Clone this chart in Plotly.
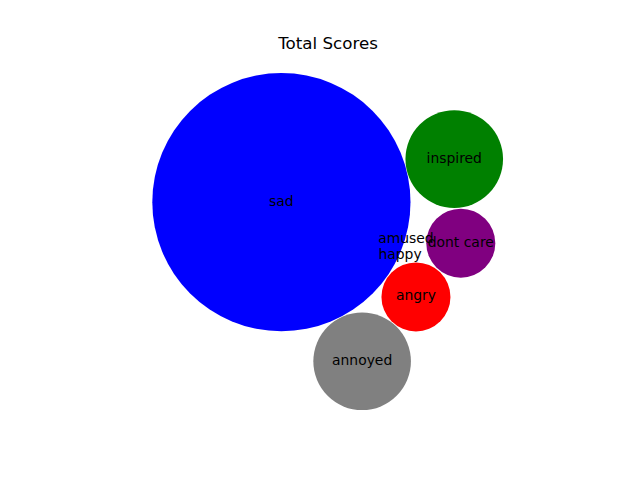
import numpy as np
import plotly.graph_objects as go

# Data
labels = ["sad", "inspired", "dont care", "angry", "annoyed", "amused", "happy"]
scores = [14, 2, 1, 1, 2, 0, 0]
x_pos = [0.0, 5.01, 5.20, 3.90, 2.34, 3.61, 3.44]
y_pos = [0.0, 1.25, -1.19, -2.75, -4.62, -1.08, -1.54]
colors = ["#0000ff", "#008000", "#800080", "#ff0000", "#808080", "#1f77b4", "#ff7f0e"]

PX_PER_UNIT = 34.5
diam = [2 * np.sqrt(s) * PX_PER_UNIT for s in scores]

fig = go.Figure()
fig.add_trace(go.Scatter(
    x=x_pos, y=y_pos, mode="markers+text",
    text=labels, textposition="middle center",
    textfont=dict(family="DejaVu Sans", size=13.9, color="black"),
    marker=dict(size=diam, sizemode="diameter", color=colors, opacity=1,
                line=dict(width=0)),
    cliponaxis=False, hoverinfo="skip", showlegend=False,
))

W, H = 640, 480
ml, mr, mt, mb = 80, 64, 57.6, 52.8
pw, ph = W - ml - mr, H - mt - mb
cx, cy = 281.4, 202.0
x0 = -(cx - ml) / PX_PER_UNIT
x1 = x0 + pw / PX_PER_UNIT
y1 = (cy - mt) / PX_PER_UNIT
y0 = y1 - ph / PX_PER_UNIT

fig.update_layout(
    width=W, height=H,
    margin=dict(l=ml, r=mr, t=mt, b=mb, pad=0),
    paper_bgcolor="white", plot_bgcolor="white",
    title=dict(text="Total Scores", x=0.5, xref="paper", xanchor="center",
               y=1 - 43 / H, yref="container", yanchor="middle",
               font=dict(family="DejaVu Sans", size=16.7, color="black")),
    xaxis=dict(range=[x0, x1], visible=False, showgrid=False, zeroline=False),
    yaxis=dict(range=[y0, y1], visible=False, showgrid=False, zeroline=False),
    hovermode=False,
)

fig.write_html("out.html", config={"displayModeBar": False})
